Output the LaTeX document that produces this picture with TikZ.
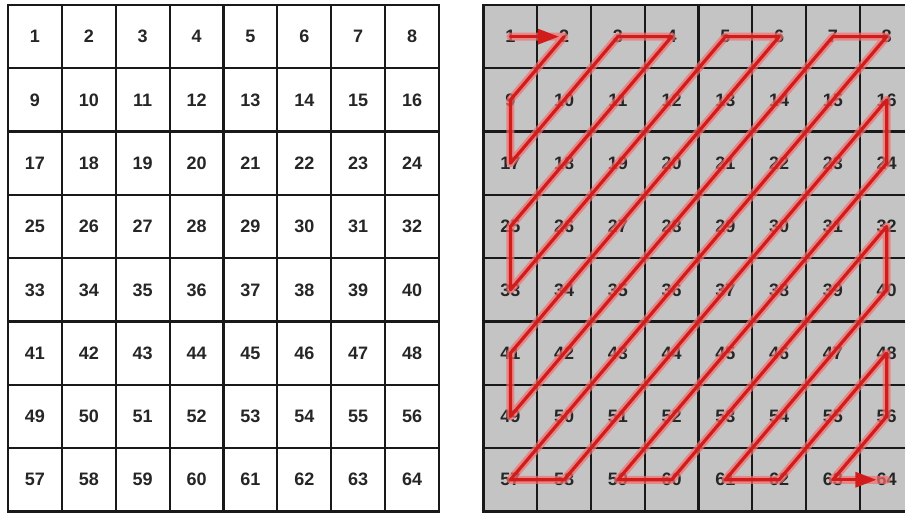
\documentclass[tikz,border=0pt]{standalone}
\usepackage{fontspec}
\setmainfont{Liberation Sans}
\usetikzlibrary{arrows.meta}
\definecolor{zigred}{RGB}{210,28,28}
\definecolor{zigglow}{RGB}{245,110,110}
\definecolor{cellgrey}{RGB}{196,196,196}
\begin{document}
\begin{tikzpicture}[x=1pt,y=-1pt,
  num/.style={font=\bfseries\fontsize{18}{18}\selectfont, text=black!85, inner sep=0pt},
  cellw/.style={draw=black!90, line width=2.2pt, fill=white},
  cellg/.style={draw=black!90, line width=2.2pt, fill=cellgrey},
  zig/.style={draw=zigred, line width=3.2pt, line join=round, line cap=round},
  glow/.style={draw=zigglow, opacity=0.7, line width=8pt, line join=round, line cap=round},
  tip/.style={-{Triangle[length=21pt,width=15pt]}}]
\useasboundingbox (0,0) rectangle (905,513);
\clip (0,0) rectangle (905,513);
% left grid
\foreach \r in {0,...,7}{
  \foreach \c in {0,...,7}{
    \pgfmathtruncatemacro{\n}{8*\r+\c+1}
    \pgfmathsetmacro{\xa}{8+53.875*\c}
    \pgfmathsetmacro{\ya}{5+63.3*\r}
    \draw[cellw] (\xa,\ya) rectangle ++(53.875,63.3);
    \node[num] (l\n) at (\xa+26.94,\ya+31.65) {\n};
  }
}
% right grid
\foreach \r in {0,...,7}{
  \foreach \c in {0,...,7}{
    \pgfmathtruncatemacro{\n}{8*\r+\c+1}
    \pgfmathsetmacro{\xa}{483.5+53.75*\c}
    \pgfmathsetmacro{\ya}{5+63.3*\r}
    \draw[cellg] (\xa,\ya) rectangle ++(53.75,63.3);
    \node[num] (r\n) at (\xa+26.9,\ya+31.65) {\n};
  }
}
% zig-zag path
\def\zigseq{9,17,10,3,4,11,18,25,33,26,19,12,5,6,13,20,27,34,41,49,42,35,28,21,14,7,8,15,22,29,36,43,50,57,58,51,44,37,30,23,16,24,31,38,45,52,59,60,53,46,39,32,40,47,54,61,62,55,48,56,63}
\draw[glow] (r1.center) -- (r2.center) \foreach \k in \zigseq { -- (r\k.center) } -- (r64.center);
\draw[zig] (r2.center) \foreach \k in \zigseq { -- (r\k.center) };
\draw[zig,tip] (r1.center) -- (r2.west);
\draw[zig,tip] (r63.center) -- (r64.west);
\end{tikzpicture}
\end{document}
